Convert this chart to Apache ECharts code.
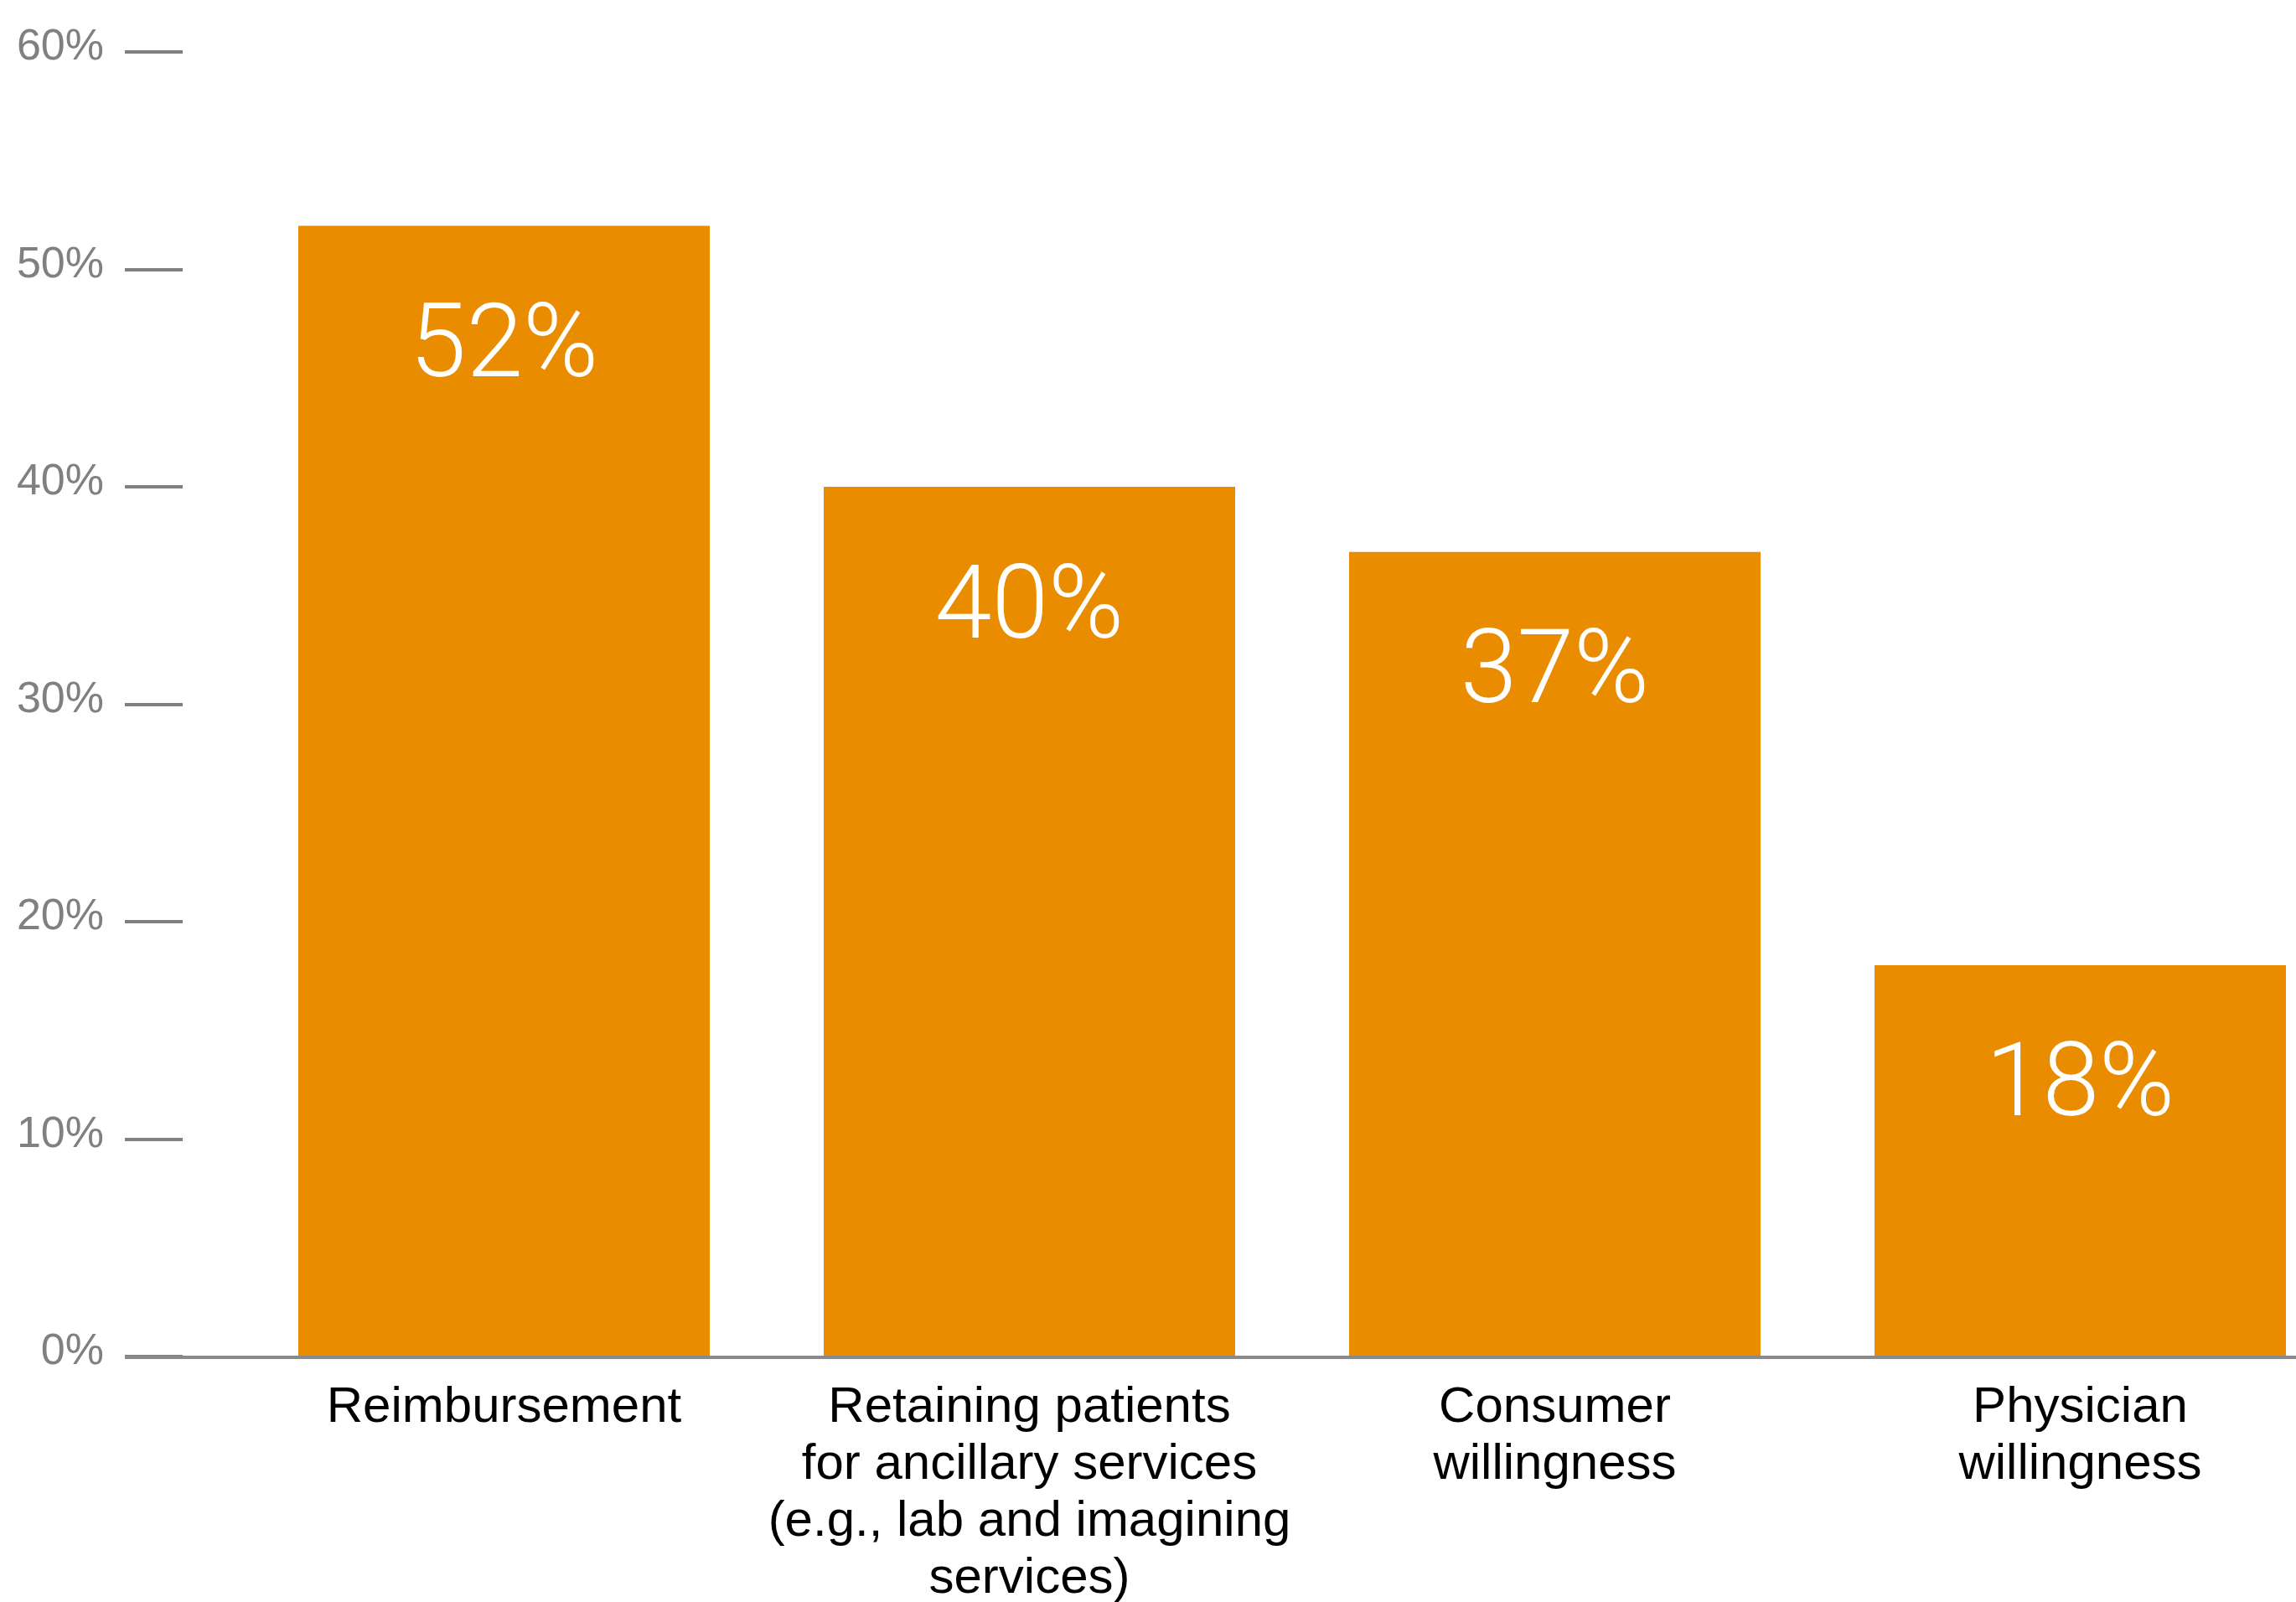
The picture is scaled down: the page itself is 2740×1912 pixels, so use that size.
<!DOCTYPE html>
<html>
<head>
<meta charset="utf-8">
<script src="https://cdn.jsdelivr.net/npm/echarts@6/dist/echarts.min.js"></script>
<style>
html,body{margin:0;padding:0;background:#fff;}
#chart{width:2740px;height:1912px;}
</style>
</head>
<body>
<div id="chart"></div>
<script>
const categories = [
  'Reimbursement',
  'Retaining patients\nfor ancillary services\n(e.g., lab and imagining\nservices)',
  'Consumer\nwillingness',
  'Physician\nwillingness'
];
const values = [52, 40, 37, 18];
const yMin = 0, yMax = 60, yInterval = 10;

const BAR_COLOR = '#EA8C00';
const GRAY = '#808080';
const GRID_LEFT = 288, GRID_WIDTH = 2508, GRID_TOP = 62, GRID_BOTTOM = 293;
const Y_OFFSET = 139;

const chart = echarts.init(document.getElementById('chart'), null, {renderer: 'canvas'});
const option = {
  backgroundColor: '#ffffff',
  animation: false,
  grid: {left: GRID_LEFT, width: GRID_WIDTH, top: GRID_TOP, bottom: GRID_BOTTOM, containLabel: false, outerBoundsMode: 'none'},
  xAxis: {
    type: 'category',
    data: categories,
    axisLine: {show: false},
    axisTick: {show: false},
    axisLabel: {
      interval: 0,
      color: '#000',
      fontFamily: '"Liberation Sans", Arial, Helvetica, sans-serif',
      fontSize: 60,
      lineHeight: 68,
      margin: 27
    }
  },
  yAxis: {
    type: 'value',
    min: yMin, max: yMax, interval: yInterval,
    offset: Y_OFFSET,
    axisLine: {show: false},
    splitLine: {show: false},
    axisTick: {show: true, inside: true, length: 69, lineStyle: {color: GRAY, width: 4}},
    axisLabel: {
      color: GRAY,
      fontFamily: '"Liberation Sans", Arial, Helvetica, sans-serif',
      fontSize: 52,
      margin: 25,
      verticalAlign: 'bottom',
      lineHeight: 10,
      formatter: v => v + '%'
    }
  },
  series: [{
    type: 'bar',
    data: values,
    barWidth: 491,
    itemStyle: {color: BAR_COLOR},
    label: {
      show: true,
      position: ['50%', 149],
      align: 'center',
      verticalAlign: 'middle',
      color: '#fff',
      fontFamily: 'Roboto, "Open Sans", sans-serif',
      fontWeight: 300,
      fontSize: 122,
      formatter: p => p.value + '%'
    }
  }]
};
chart.setOption(option);
const y0 = chart.convertToPixel({yAxisIndex: 0}, 0);
chart.setOption({
  graphic: [{
    type: 'line',
    z: 100,
    shape: {x1: GRID_LEFT - Y_OFFSET, y1: y0 + 1, x2: 2740, y2: y0 + 1},
    style: {stroke: '#8a8a8a', lineWidth: 4}
  }]
});
</script>
</body>
</html>
